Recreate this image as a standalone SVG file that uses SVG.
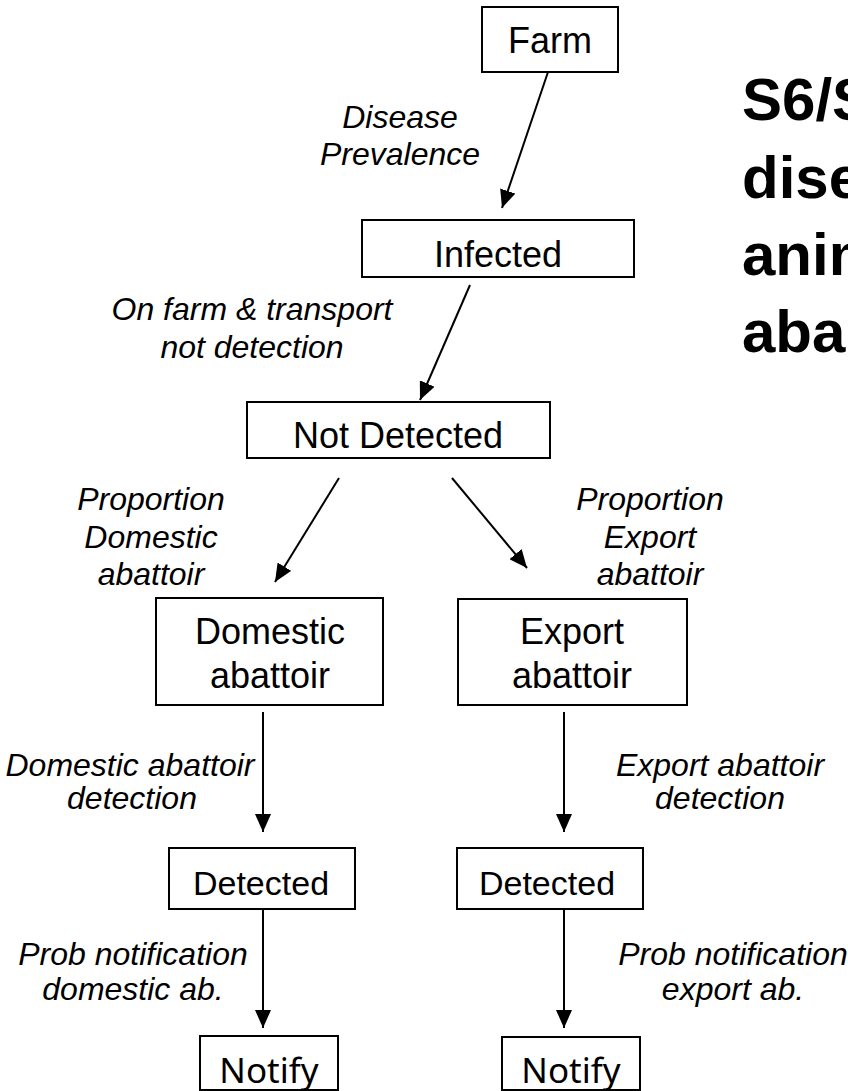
<svg xmlns="http://www.w3.org/2000/svg" width="848" height="1091" viewBox="0 0 848 1091">
<style>
.box{fill:#fff;stroke:#000;stroke-width:2}
.nt{font-family:"Liberation Sans",Arial,sans-serif;font-size:36px;fill:#000;text-anchor:middle}
.nt2{font-family:"Noto Sans","Open Sans",sans-serif;font-size:35px;fill:#000;text-anchor:middle}
.lb{font-family:"Liberation Sans",Arial,sans-serif;font-size:32px;font-style:italic;fill:#000;text-anchor:middle}
.ttl{font-family:"Liberation Sans",Arial,sans-serif;font-size:60px;font-weight:bold;fill:#000}
.cn{fill:none;stroke:#000;stroke-width:2;marker-end:url(#ah)}
</style>
<defs>
<marker id="ah" markerUnits="userSpaceOnUse" markerWidth="20" markerHeight="16" refX="18" refY="8" orient="auto">
<path d="M0,0 L18,8 L0,16 Z" fill="#000"/>
</marker>
</defs>
<rect width="848" height="1091" fill="#fff"/>
<g id="title">
<text class="ttl" x="742" y="120">S6/S</text>
<text class="ttl" x="742" y="198">dise</text>
<text class="ttl" x="742" y="275">anim</text>
<text class="ttl" x="742" y="352">aba</text>
</g>
<g id="connectors">
<path class="cn" d="M548,72 L502,208"/>
<path class="cn" d="M470,285 L420,400"/>
<path class="cn" d="M339,478 L275,582"/>
<path class="cn" d="M452,478 L527,568"/>
<path class="cn" d="M263,712 L263,832"/>
<path class="cn" d="M564,712 L564,832"/>
<path class="cn" d="M263,910 L263,1028"/>
<path class="cn" d="M564,910 L564,1028"/>
</g>
<g id="labels">
<text class="lb" x="400" y="128">Disease</text>
<text class="lb" x="400" y="165">Prevalence</text>
<text class="lb" x="252" y="320">On farm &amp; transport</text>
<text class="lb" x="252" y="358">not detection</text>
<text class="lb" x="151" y="510">Proportion</text>
<text class="lb" x="151" y="548">Domestic</text>
<text class="lb" x="151" y="585">abattoir</text>
<text class="lb" x="650" y="510">Proportion</text>
<text class="lb" x="650" y="548">Export</text>
<text class="lb" x="650" y="585">abattoir</text>
<text class="lb" x="130" y="776">Domestic abattoir</text>
<text class="lb" x="132" y="809">detection</text>
<text class="lb" x="720" y="776">Export abattoir</text>
<text class="lb" x="720" y="809">detection</text>
<text class="lb" x="133" y="965">Prob notification</text>
<text class="lb" x="133" y="1000">domestic ab.</text>
<text class="lb" x="733" y="965">Prob notification</text>
<text class="lb" x="733" y="1000">export ab.</text>
</g>
<g id="farm">
<rect class="box" x="482" y="7" width="136" height="65"/>
<text class="nt" x="550" y="53">Farm</text>
</g>
<g id="infected">
<rect class="box" x="362" y="220" width="272" height="57"/>
<text class="nt" x="498" y="267">Infected</text>
</g>
<g id="not-detected">
<rect class="box" x="247" y="402" width="303" height="56"/>
<text class="nt" x="398" y="448">Not Detected</text>
</g>
<g id="domestic-abattoir">
<rect class="box" x="156" y="598" width="227" height="107"/>
<text class="nt" x="270" y="644">Domestic</text>
<text class="nt" x="270" y="688">abattoir</text>
</g>
<g id="export-abattoir">
<rect class="box" x="458" y="599" width="229" height="106"/>
<text class="nt" x="572" y="644">Export</text>
<text class="nt" x="572" y="688">abattoir</text>
</g>
<g id="detected-domestic">
<rect class="box" x="169" y="848" width="186" height="61"/>
<text class="nt" x="261" y="895" style="font-size:34px">Detected</text>
</g>
<g id="detected-export">
<rect class="box" x="457" y="848" width="186" height="61"/>
<text class="nt" x="547" y="895" style="font-size:34px">Detected</text>
</g>
<g id="notify-domestic">
<rect class="box" x="200" y="1036" width="138" height="54"/>
<text class="nt2" x="269" y="1083">Notify</text>
</g>
<g id="notify-export">
<rect class="box" x="502" y="1037" width="138" height="53"/>
<text class="nt2" x="571" y="1083">Notify</text>
</g>
</svg>
